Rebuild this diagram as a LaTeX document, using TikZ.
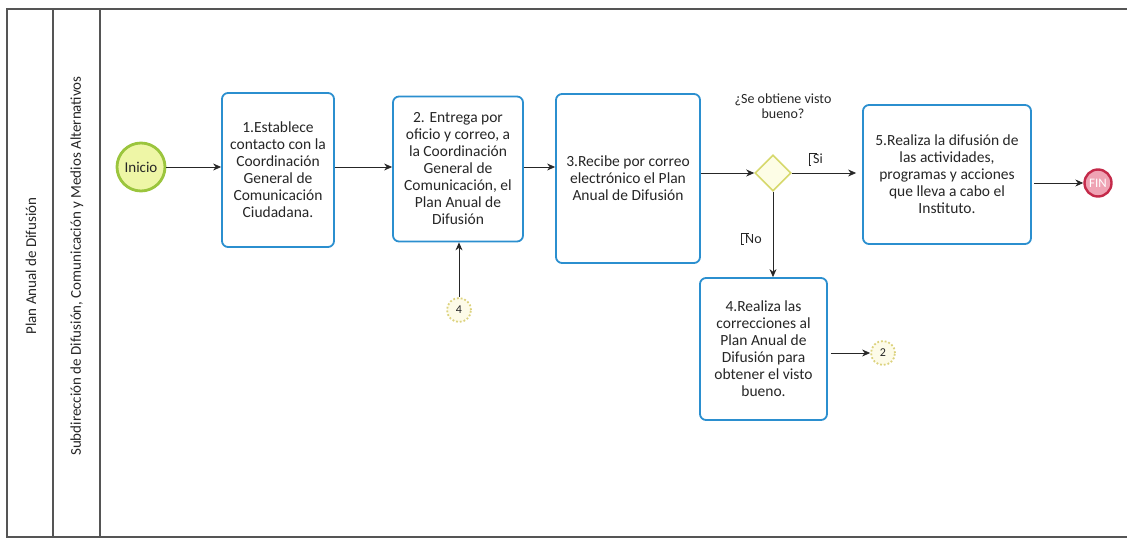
\documentclass[tikz,border=0pt]{standalone}
\usepackage{fontspec}
\setmainfont{Carlito}
\usetikzlibrary{arrows.meta,shapes.geometric,calc}

\definecolor{lane}{HTML}{555555}
\definecolor{taskblue}{HTML}{2B8FCF}
\definecolor{ink}{HTML}{262626}
\definecolor{startfill}{HTML}{EEF6A6}
\definecolor{startline}{HTML}{9BC53D}
\definecolor{endfill}{HTML}{EFA3B4}
\definecolor{endline}{HTML}{C42A4A}
\definecolor{gatefill}{HTML}{FDFDE6}
\definecolor{gateline}{HTML}{D6D86C}
\definecolor{linkfill}{HTML}{FDFBE8}
\definecolor{linkline}{HTML}{DCD27E}

\tikzset{
  lanefont/.style={font=\fontsize{15}{17}\selectfont, text=ink},
  task/.style={draw=taskblue, line width=1.8pt, rounded corners=6pt, fill=white,
    align=center, text=ink, font=\fontsize{15.5}{17}\selectfont, inner sep=2pt},
  startev/.style={circle, draw=startline, line width=2.8pt, fill=startfill,
    minimum size=48pt, inner sep=0pt, text=ink, font=\fontsize{15}{17}\selectfont},
  endev/.style={circle, draw=endline, line width=2.4pt, fill=endfill,
    minimum size=27pt, inner sep=0pt, text=white, font=\fontsize{13}{14}\selectfont},
  gate/.style={diamond, draw=gateline, line width=1.6pt, fill=gatefill,
    minimum width=36pt, minimum height=36pt, inner sep=0pt},
  linkev/.style={circle, draw=linkline, line width=1.8pt, dotted, fill=linkfill,
    minimum size=24pt, inner sep=0pt, text=ink, font=\fontsize{12}{13}\selectfont},
  flow/.style={draw=ink, line width=0.8pt, -{Stealth[length=8pt,width=7pt]}},
  note/.style={align=center, text=ink, font=\fontsize{14}{15.5}\selectfont},
  guard/.style={text=ink, font=\fontsize{14}{15}\selectfont, inner sep=1pt},
}

\begin{document}
\begin{tikzpicture}[x=1pt,y=-1pt]
\useasboundingbox (0,0) rectangle (1127,540);

% pool and lane frame
\draw[lane, line width=1.2pt] (1127,9) -- (7,9) -- (7,537) -- (1127,537);
\draw[lane, line width=1.2pt] (53,9) -- (53,537);
\draw[lane, line width=1.2pt] (100,9) -- (100,537);
\node[lanefont, rotate=90] (pool) at (31,266) {Plan Anual de Difusión};
\node[lanefont, rotate=90] (lanename) at (77,266) {Subdirección de Difusión, Comunicación y Medios Alternativos};

% events, tasks and gateway
\node[startev] (start) at (141,167) {Inicio};
\node[task, minimum width=112pt, minimum height=154pt] (t1) at (278,170)
  {1.Establece\\contacto con la\\Coordinación\\General de\\Comunicación\\Ciudadana.};
\node[task, minimum width=130pt, minimum height=145pt] (t2) at (458,169)
  {2. Entrega por\\oficio y correo, a\\la Coordinación\\General de\\Comunicación, el\\Plan Anual de\\Difusión};
\node[task, minimum width=144pt, minimum height=169pt] (t3) at (628,178.5)
  {3.Recibe por correo\\electrónico el Plan\\Anual de Difusión};
\node[gate] (gw) at (773,173) {};
\node[note] (question) at (783,106) {¿Se obtiene visto\\bueno?};
\node[task, minimum width=168pt, minimum height=139pt] (t5) at (947,174.5)
  {5.Realiza la difusión de\\las actividades,\\programas y acciones\\que lleva a cabo el\\Instituto.};
\node[endev] (fin) at (1098,183) {FIN};
\node[task, minimum width=127pt, minimum height=142pt] (t4) at (763.5,349)
  {4.Realiza las\\correcciones al\\Plan Anual de\\Difusión para\\obtener el visto\\bueno.};
\node[linkev] (link4) at (459,310) {4};
\node[linkev] (link2) at (883,353) {2};

% sequence flows
\draw[flow] (start) -- (start -| t1.west);
\draw[flow] (t1.east |- 0,167) -- (t2.west |- 0,167);
\draw[flow] (t2.east |- 0,167) -- (t3.west |- 0,167);
\draw[flow] (t3.east |- gw) -- (gw.west);
\draw[flow] (gw.east) -- ($(t5.west |- gw)+(-6,0)$);
\draw[flow] (gw.south) -- (t4.north -| gw);
\draw[flow] (fin -| t5.east) ++(2,0) -- (fin.west);
\draw[flow] (link4.north) -- (t2.south -| link4);
\draw[flow] (t4.east |- link2) ++(3,0) -- (link2.west);

% guard labels with annotation brackets
\node[guard, anchor=west] (si) at (812,159) {Si};
\coordinate (sibr) at ($(si.north west)+(-3,0)$);
\draw[ink, line width=0.7pt] ($(sibr)+(8,0)$) -- (sibr) -- (sibr |- si.south) -- ++(2,0);
\node[guard, anchor=west] (no) at (744,239) {No};
\coordinate (nobr) at ($(no.north west)+(-3,0)$);
\draw[ink, line width=0.7pt] ($(nobr)+(8,0)$) -- (nobr) -- (nobr |- no.south) -- ++(3,0);
\end{tikzpicture}
\end{document}
